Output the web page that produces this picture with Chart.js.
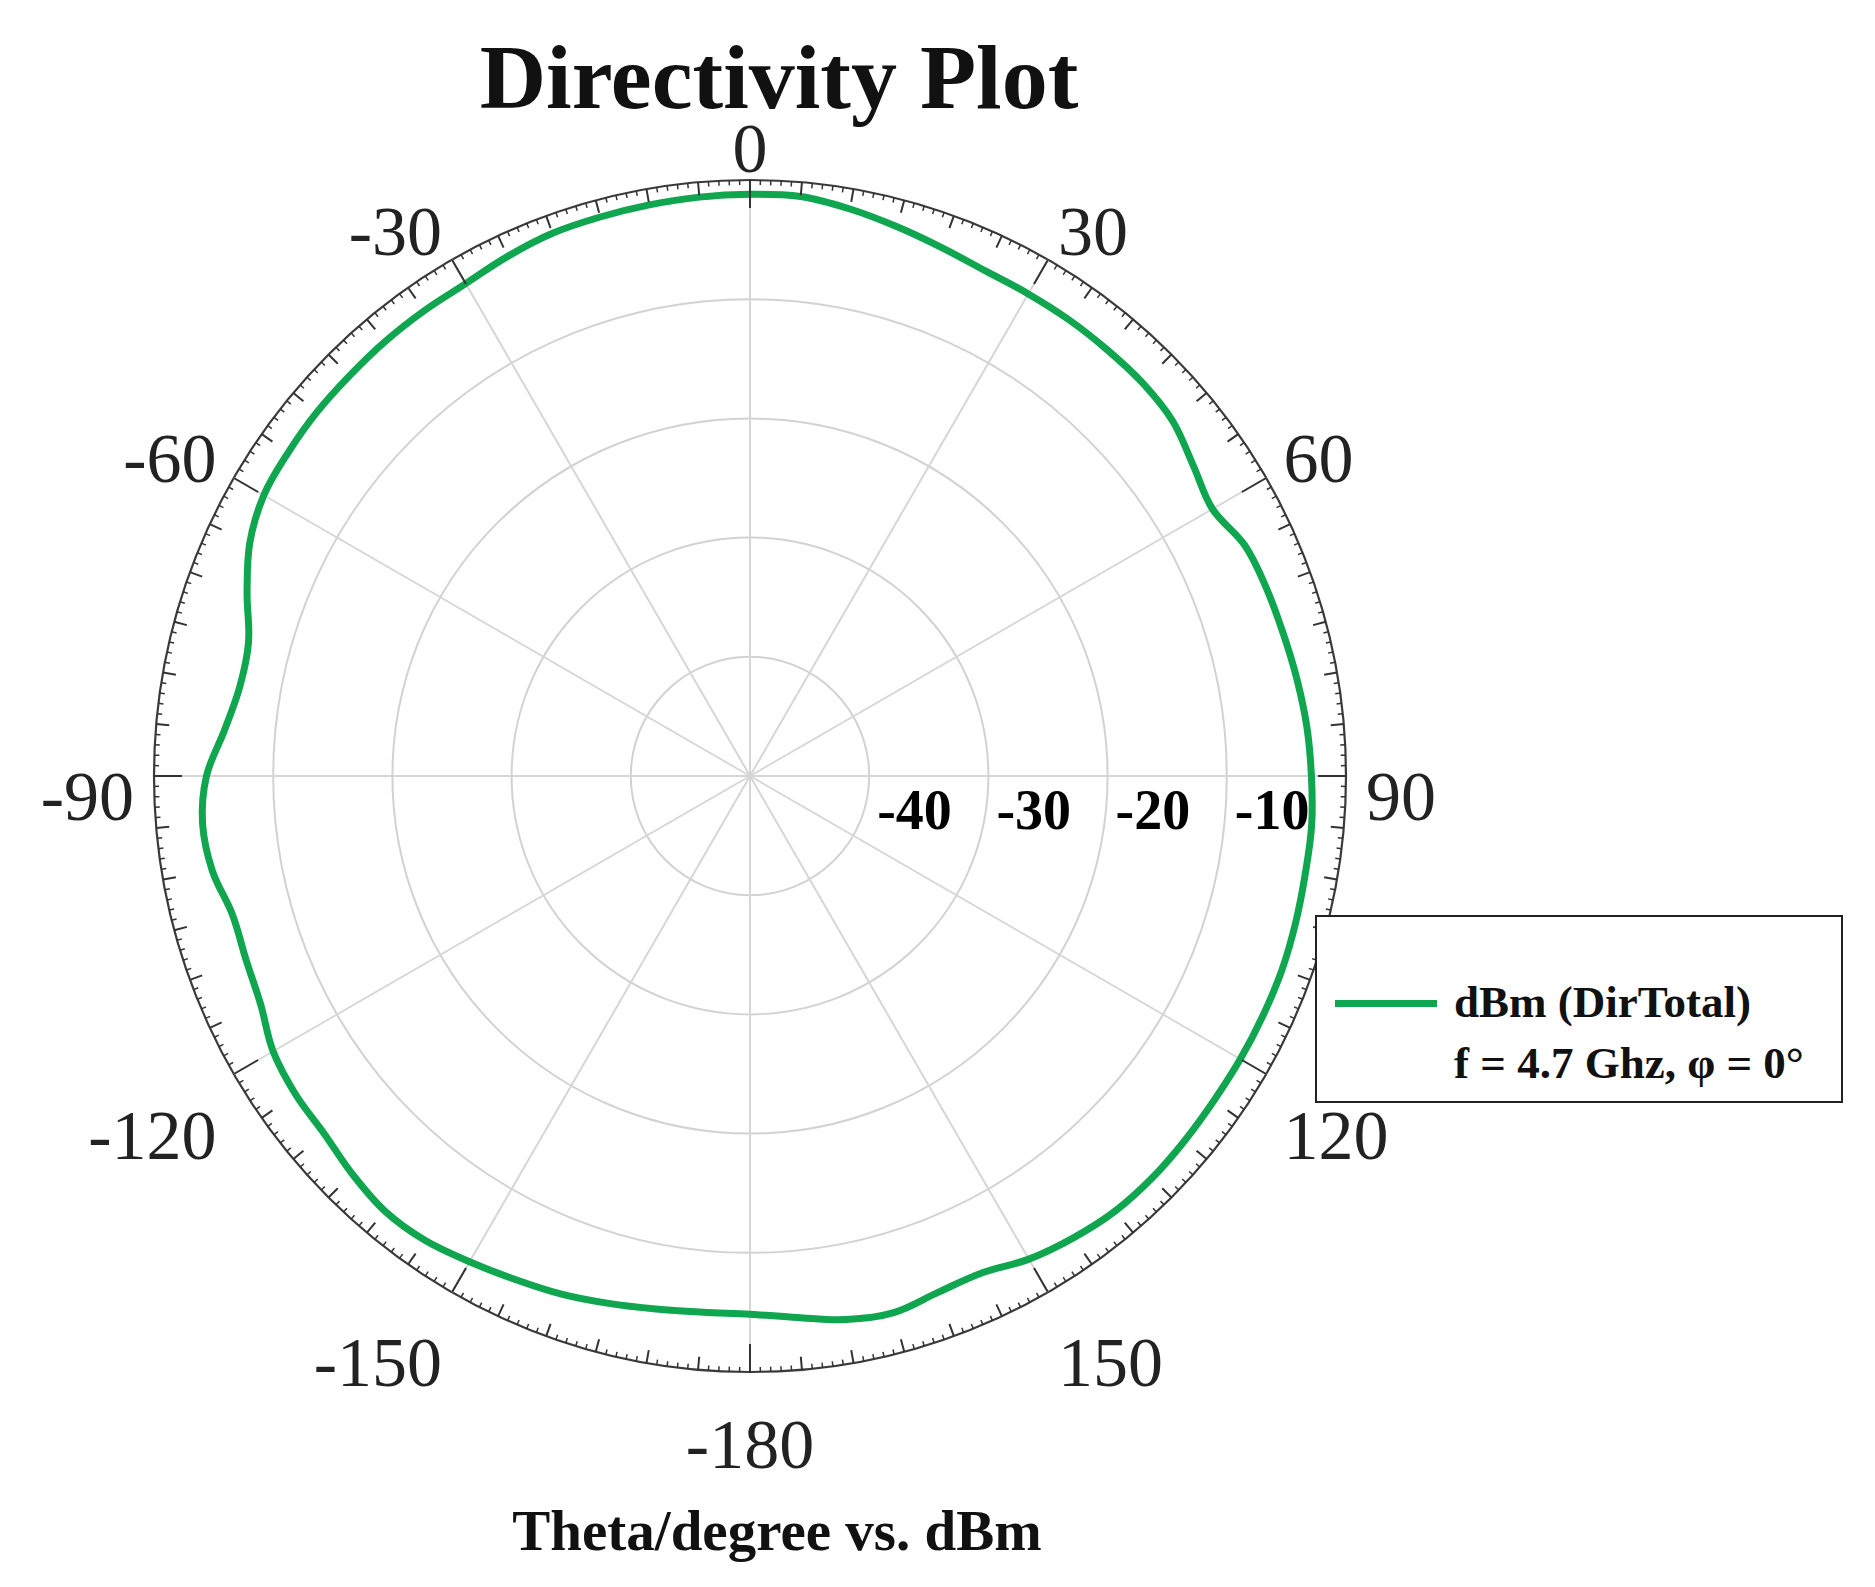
<!DOCTYPE html>
<html>
<head>
<meta charset="utf-8">
<title>Directivity Plot</title>
<script src="https://cdn.jsdelivr.net/npm/chart.js@4.4.1/dist/chart.umd.min.js"></script>
<style>
  body { margin: 0; background: #fff; }
  #wrap { position: relative; width: 1875px; height: 1587px; font-family: "Liberation Serif", "Times New Roman", serif; color: #111; }
  #plot { position: absolute; left: 0; top: 0; }
  .title { position: absolute; left: 0; top: 31px; width: 1558px; text-align: center; font-weight: bold; font-size: 92px; line-height: 92px; }
  .xlabel { position: absolute; left: 0; top: 1502px; width: 1554px; text-align: center; font-weight: bold; font-size: 57px; line-height: 57px; }
  .legend { position: absolute; left: 1315px; top: 915px; width: 524px; height: 184px; border: 2px solid #222; background: #fff; }
  .legend .swatch { position: absolute; left: 18px; top: 83px; width: 102px; height: 7px; }
  .legend .txt { position: absolute; left: 137px; font-weight: bold; font-size: 45px; line-height: 45px; white-space: nowrap; }
</style>
</head>
<body>
<div id="wrap">
  <canvas id="plot" width="1875" height="1587"></canvas>
  <div class="title">Directivity Plot</div>
  <div class="xlabel">Theta/degree vs. dBm</div>
  <div class="legend" id="legend"></div>
</div>
<script>
'use strict';

// theta (deg), clockwise from the top, every 5 degrees
const thetaDeg = [
  0, 5, 10, 15, 20, 25, 30, 35, 40, 45, 50, 55, 60, 65, 70, 75, 80, 85,
  90, 95, 100, 105, 110, 115, 120, 125, 130, 135, 140, 145, 150, 155, 160, 165, 170, 175,
  -180, -175, -170, -165, -160, -155, -150, -145, -140, -135, -130, -125, -120, -115, -110, -105, -100, -95,
  -90, -85, -80, -75, -70, -65, -60, -55, -50, -45, -40, -35, -30, -25, -20, -15, -10, -5
];
// dBm (DirTotal), f = 4.7 GHz, phi = 0
const dirTotal = [
  -1.2, -1.2, -1.7, -2.3, -2.85, -3.25, -3.3, -3.3, -3.35, -3.4, -3.7, -4.6, -5.2, -4.2, -3.9, -3.7, -3.4, -3.1,
  -2.9, -2.7, -2.7, -2.6, -2.5, -2.5, -2.5, -2.5, -2.4, -2.3, -2.35, -2.7, -3.2, -4.0, -3.9, -3.4, -3.7, -4.4,
  -4.85, -4.85, -4.6, -4.2, -3.75, -3.4, -2.95, -2.45, -2.35, -2.8, -3.35, -3.45, -3.8, -4.7, -5.0, -5.05, -4.2, -3.9,
  -4.4, -5.75, -6.55, -6.45, -5.1, -3.7, -2.9, -2.7, -2.55, -2.5, -2.4, -2.35, -2.3, -1.9, -1.55, -1.45, -1.35, -1.25
];
const seriesName = "dBm (DirTotal)";
const seriesNote = "f = 4.7 Ghz, \u03c6 = 0\u00b0";
const rMin = -50, rMax = 0, rStep = 10;
const majorEvery = 30;

const green = '#0fa64f';
const serif = '"Liberation Serif", "Times New Roman", serif';

// 外周の目盛り・角度ラベル・dB ラベル
const polarDecor = {
  id: 'polarDecor',
  afterDraw(chart) {
    const scale = chart.scales.r;
    const ctx = chart.ctx;
    const R = scale.drawingArea;
    const n = chart.data.labels.length;
    const stepDeg = 360 / n;
    ctx.save();
    ctx.strokeStyle = '#333';
    for (let d = 0; d < 360; d++) {
      const len = d % majorEvery === 0 ? 28 : (d % 5 === 0 ? 13 : 5);
      const p1 = scale.getPointPosition(d / stepDeg, R);
      const p2 = scale.getPointPosition(d / stepDeg, R - len);
      ctx.lineWidth = d % 5 === 0 ? 2 : 1.5;
      ctx.beginPath();
      ctx.moveTo(p1.x, p1.y);
      ctx.lineTo(p2.x, p2.y);
      ctx.stroke();
    }
    // angle labels
    ctx.fillStyle = '#222';
    ctx.font = '70px ' + serif;
    ctx.textAlign = 'center';
    ctx.textBaseline = 'middle';
    chart.data.labels.forEach((t, i) => {
      if (t % majorEvery !== 0) return;
      const p = scale.getPointPosition(i, R + 20);
      const dx = (p.x - scale.xCenter) / (R + 20);
      const dy = (p.y - scale.yCenter) / (R + 20);
      const w = ctx.measureText(String(t)).width;
      const sx = Math.abs(dx) < 0.01 ? 0 : Math.sign(dx);
      ctx.fillText(String(t), p.x + sx * w / 2, p.y + 26 + 32 * Math.tanh(4 * dy));
    });
    // dB labels along the 90 degree spoke
    ctx.font = 'bold 56px ' + serif;
    ctx.textAlign = 'left';
    ctx.fillStyle = '#000';
    const idx90 = chart.data.labels.indexOf(90);
    scale.ticks.forEach(tk => {
      if (tk.value <= rMin || tk.value >= rMax) return;
      const p = scale.getPointPositionForValue(idx90, tk.value);
      ctx.fillText(String(tk.value), p.x + 8, p.y + 39);
    });
    ctx.restore();
  }
};

const ctx = document.getElementById('plot').getContext('2d');
const chart = new Chart(ctx, {
  type: 'radar',
  data: {
    labels: thetaDeg,
    datasets: [{
      label: seriesName,
      data: dirTotal,
      borderColor: green,
      borderWidth: 7,
      pointRadius: 0,
      fill: false,
      tension: 0.35,
    }]
  },
  options: {
    responsive: false,
    animation: false,
    devicePixelRatio: 1,
    layout: { padding: { left: 154, top: 180, right: 529, bottom: 215 } },
    plugins: { legend: { display: false }, tooltip: { enabled: false } },
    scales: {
      r: {
        min: rMin,
        max: rMax,
        ticks: { stepSize: rStep, display: false },
        pointLabels: { display: false },
        grid: {
          circular: true,
          color: c => (c.tick && c.tick.value === rMax) ? '#3a3a3a' : '#d2d2d2',
          lineWidth: c => (c.tick && c.tick.value === rMin) ? 0 : (c.tick && c.tick.value === rMax ? 2.2 : 2),
        },
        angleLines: {
          display: true,
          color: '#d6d6d6',
          lineWidth: c => (thetaDeg[c.index] % majorEvery === 0) ? 2 : 0,
        },
      }
    }
  },
  plugins: [polarDecor]
});

// 凡例 (HTML)
const legend = document.getElementById('legend');
const ds = chart.data.datasets[0];
legend.innerHTML =
  '<div class="swatch" style="background:' + ds.borderColor + '"></div>' +
  '<div class="txt" style="top:63px">' + ds.label + '</div>' +
  '<div class="txt" style="top:124px">' + seriesNote + '</div>';
</script>
</body>
</html>
